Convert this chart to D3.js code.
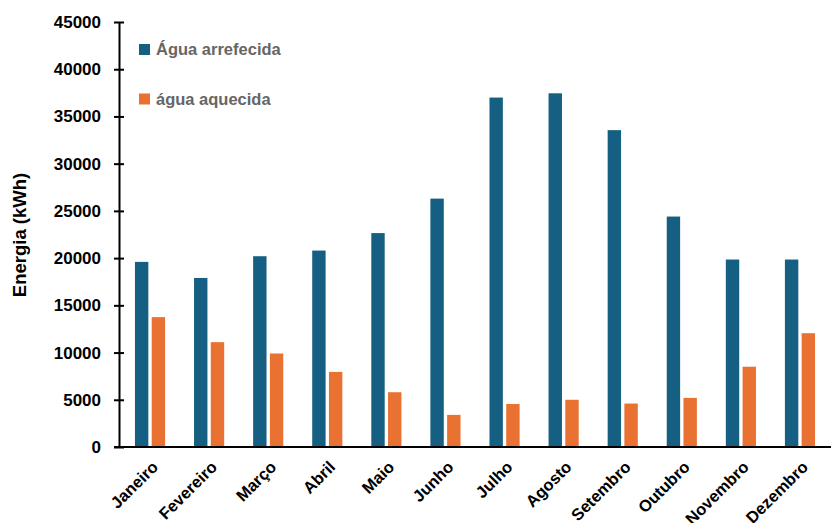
<!DOCTYPE html>
<html>
<head>
<meta charset="utf-8">
<script src="https://cdn.jsdelivr.net/npm/d3@7/dist/d3.min.js"></script>
<style>
  html, body { margin: 0; padding: 0; background: #fff; }
  svg { display: block; font-family: "Liberation Sans", Arial, sans-serif; }
</style>
</head>
<body>
<svg id="chart" width="831" height="523"></svg>
<script>
const months = ["Janeiro","Fevereiro","Março","Abril","Maio","Junho","Julho","Agosto","Setembro","Outubro","Novembro","Dezembro"];
const seriesNames = ["Água arrefecida","água aquecida"];
const aguaArrefecida = [19600,17900,20200,20800,22650,26300,37000,37450,33550,24400,19850,19850];
const aguaAquecida   = [13750,11100,9900,7950,5800,3400,4550,5000,4600,5200,8500,12050];
const yTicks = [0,5000,10000,15000,20000,25000,30000,35000,40000,45000];
const yTitle = "Energia (kWh)";
const colors = ["#156082","#E97132"];

const svg = d3.select("#chart");
const mLeft = 119, mRight = 831, mTop = 22, mBottom = 447;

const x = d3.scaleBand().domain(months).range([mLeft, mRight]).paddingInner(0.49).paddingOuter(0.27);
const xs = d3.scaleBand().domain([0,1]).range([0, x.bandwidth()]).paddingInner(0.2);
const y = d3.scaleLinear().domain([0,45000]).range([mBottom, mTop]);

const data = months.map((m,i)=>({m, v:[aguaArrefecida[i], aguaAquecida[i]]}));

const g = svg.append("g");
data.forEach(d=>{
  d.v.forEach((v,k)=>{
    g.append("rect")
      .attr("x", x(d.m)+xs(k))
      .attr("y", y(v))
      .attr("width", xs.bandwidth())
      .attr("height", y(0)-y(v))
      .attr("fill", colors[k]);
  });
});

// Y axis
const yAxis = svg.append("g").attr("transform", `translate(${mLeft},0)`)
  .call(d3.axisLeft(y).tickValues(yTicks).tickFormat(d3.format("d")).tickSizeInner(5).tickSizeOuter(0));
yAxis.select(".domain").attr("stroke","#000").attr("stroke-width",2);
yAxis.selectAll(".tick line").attr("x1",-5).attr("x2",5).attr("stroke","#000").attr("stroke-width",2);
yAxis.selectAll(".tick text").attr("x",-18).attr("font-size","17px").attr("font-weight","bold").attr("fill","#000")
  .attr("font-family","'Liberation Sans', Arial, sans-serif");

// X axis
const xAxis = svg.append("g").attr("transform", `translate(0,${mBottom})`)
  .call(d3.axisBottom(x).tickSize(0).tickSizeOuter(0));
xAxis.select(".domain").attr("stroke","#000").attr("stroke-width",2).attr("d", `M${mLeft-5},0H${mRight}`);
xAxis.selectAll(".tick text")
  .attr("font-size","16.5px").attr("font-weight","bold").attr("fill","#000")
  .attr("font-family","'Liberation Sans', Arial, sans-serif")
  .attr("text-anchor","end")
  .attr("transform","translate(5,17) rotate(-45)")
  .attr("x",0).attr("y",0).attr("dy","0.35em");

// Y title
svg.append("text")
  .attr("transform","translate(26,235) rotate(-90)")
  .attr("text-anchor","middle")
  .attr("font-size","18.5px").attr("font-weight","bold").attr("fill","#000")
  .text(yTitle);

// Legend
const legend = svg.append("g");
seriesNames.forEach((n,k)=>{
  const yy = 44 + k*49.5;
  legend.append("rect").attr("x",139).attr("y",yy).attr("width",11).attr("height",11).attr("fill",colors[k]);
  legend.append("text").attr("x",156).attr("y",yy+11).attr("font-size","16.5px").attr("font-weight","bold")
    .attr("fill","#666").text(n);
});
</script>
</body>
</html>
